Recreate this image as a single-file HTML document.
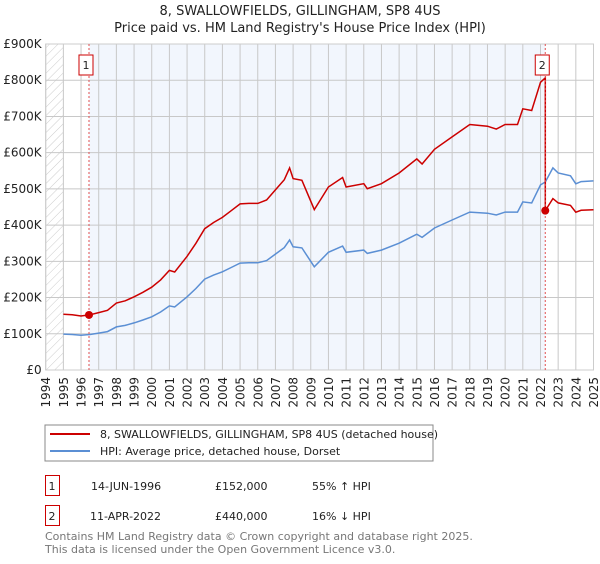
<!DOCTYPE html>
<html><head><meta charset="utf-8"><style>
body{margin:0;background:#fff;font-family:"DejaVu Sans","Liberation Sans",sans-serif;}
svg text{font-family:"DejaVu Sans","Liberation Sans",sans-serif;}
</style></head><body>
<svg id="c" width="600" height="560" xmlns="http://www.w3.org/2000/svg">
<defs><pattern id="hatch" width="6" height="6" patternUnits="userSpaceOnUse" patternTransform="rotate(45)"><line x1="0" y1="0" x2="0" y2="6" stroke="#ccc" stroke-width="1"/></pattern></defs>
<text x="300" y="15" text-anchor="middle" font-size="13" fill="#222">8, SWALLOWFIELDS, GILLINGHAM, SP8 4US</text>
<text x="300" y="32" text-anchor="middle" font-size="13" fill="#222">Price paid vs. HM Land Registry's House Price Index (HPI)</text>
<g id="plot"></g>
<rect x="45" y="425" width="388" height="36" fill="#fff" stroke="#888"/>
<line x1="50" y1="434" x2="90" y2="434" stroke="#cc0000" stroke-width="2"/>
<text x="100" y="438" font-size="11" fill="#222">8, SWALLOWFIELDS, GILLINGHAM, SP8 4US (detached house)</text>
<line x1="50" y1="451" x2="90" y2="451" stroke="#5b8fd4" stroke-width="2"/>
<text x="100" y="455" font-size="11" fill="#222">HPI: Average price, detached house, Dorset</text>
<g>
<rect x="45.5" y="475.5" width="14" height="20" fill="#fff" stroke="#cc0000"/>
<text x="52" y="490" font-size="11" text-anchor="middle" fill="#222">1</text>
<text x="91" y="490" font-size="11" fill="#222">14-JUN-1996</text>
<text x="215" y="490" font-size="11" fill="#222">£152,000</text>
<text x="312" y="490" font-size="11" fill="#222">55% ↑ HPI</text></g>
<g>
<rect x="45.5" y="505.5" width="14" height="20" fill="#fff" stroke="#cc0000"/>
<text x="52" y="520" font-size="11" text-anchor="middle" fill="#222">2</text>
<text x="90" y="520" font-size="11" fill="#222">11-APR-2022</text>
<text x="215" y="520" font-size="11" fill="#222">£440,000</text>
<text x="312" y="520" font-size="11" fill="#222">16% ↓ HPI</text></g>
<text x="45" y="540" font-size="11" fill="#777">Contains HM Land Registry data © Crown copyright and database right 2025.</text>
<text x="45" y="553" font-size="11" fill="#777">This data is licensed under the Open Government Licence v3.0.</text>
</svg>
<script>
const hpiYears=[1995,1995.5,1996,1996.5,1997,1997.5,1998,1998.5,1999,1999.5,2000,2000.5,2001,2001.3,2002,2002.5,2003,2003.5,2004,2004.5,2005,2005.5,2006,2006.5,2007,2007.5,2007.8,2008,2008.5,2009.2,2010,2010.8,2011,2012,2012.2,2013,2014,2015,2015.3,2016,2017,2018,2019,2019.5,2020,2020.7,2021,2021.5,2022,2022.27,2022.7,2023,2023.7,2024,2024.3,2025];
const hpiValues=[99,98,96,98,102,106,119,123,130,138,147,160,177,174,202,225,251,262,271,283,295,296,296,302,320,338,359,340,337,285,325,342,325,331,322,331,350,375,366,392,414,436,433,428,436,436,464,461,511,519,558,544,536,514,520,522];
const saleDates=[1996.45,2022.27];
const salePrices=[152000,440000];
const saleLabels=["1","2"];
const yTicks=[0,100000,200000,300000,400000,500000,600000,700000,800000,900000];
const yTickLabels=["£0","£100K","£200K","£300K","£400K","£500K","£600K","£700K","£800K","£900K"];
const xTicks=[1994,1995,1996,1997,1998,1999,2000,2001,2002,2003,2004,2005,2006,2007,2008,2009,2010,2011,2012,2013,2014,2015,2016,2017,2018,2019,2020,2021,2022,2023,2024,2025];

const X0=45.7,X1=593.5,Y0=370,Y1=44;
const xs=t=>X0+(t-1994)/(2025-1994)*(X1-X0);
const ys=v=>Y0-v/900000*(Y0-Y1);
const NS="http://www.w3.org/2000/svg";
const g=document.getElementById('plot');
function el(tag,attrs,parent){const e=document.createElementNS(NS,tag);for(const k in attrs)e.setAttribute(k,attrs[k]);(parent||g).appendChild(e);return e;}
function hpiAt(t){if(t<=hpiYears[0])return hpiValues[0];for(let i=1;i<hpiYears.length;i++){if(t<=hpiYears[i]){const f=(t-hpiYears[i-1])/(hpiYears[i]-hpiYears[i-1]);return (hpiValues[i-1]+f*(hpiValues[i]-hpiValues[i-1]))*1000;}}return hpiValues[hpiValues.length-1]*1000;}

let r=el('rect',{x:X0,y:Y1,width:xs(1995)-X0,height:Y0-Y1,fill:'url(#hatch)'});


r=el('rect',{x:xs(saleDates[0]),y:Y1,width:xs(saleDates[1])-xs(saleDates[0]),height:Y0-Y1,fill:'#f2f6fd'});


xTicks.forEach(t=>{const l=el('line',{x1:xs(t),x2:xs(t),y1:Y1,y2:Y0,stroke:'#c8c8c8','stroke-width':1});


const tx=el('text',{x:0,y:0,'font-size':12,fill:'#222','text-anchor':'end',transform:`translate(${xs(t)+4.5},377) rotate(-90)`});tx.textContent=t;

});
yTicks.forEach((v,i)=>{const l=el('line',{x1:X0,x2:X1,y1:ys(v),y2:ys(v),stroke:'#c8c8c8','stroke-width':1});


const tx=el('text',{x:X0-4,y:ys(v)+4,'font-size':12,fill:'#222','text-anchor':'end'});tx.textContent=yTickLabels[i];

});
r=el('rect',{x:X0,y:Y1,width:X1-X0,height:Y0-Y1,fill:'none',stroke:'#ccc'});


let d=hpiYears.map((t,i)=>(i?'L':'M')+xs(t).toFixed(1)+' '+ys(hpiValues[i]*1000).toFixed(1)).join(' ');
let p=el('path',{d:d,fill:'none',stroke:'#5b8fd4','stroke-width':1.5});


let pts=[];
for(let i=0;i<hpiYears.length;i++){const t=hpiYears[i];
 if(t<saleDates[1]){pts.push([t,hpiValues[i]*1000*salePrices[0]/hpiAt(saleDates[0])]);}
}
pts.push([saleDates[1],hpiAt(saleDates[1])*salePrices[0]/hpiAt(saleDates[0])]);
pts.push([saleDates[1],salePrices[1]]);
for(let i=0;i<hpiYears.length;i++){const t=hpiYears[i];if(t>saleDates[1])pts.push([t,hpiValues[i]*1000*salePrices[1]/hpiAt(saleDates[1])]);}
d=pts.map((q,i)=>(i?'L':'M')+xs(q[0]).toFixed(1)+' '+ys(q[1]).toFixed(1)).join(' ');
p=el('path',{d:d,fill:'none',stroke:'#cc0000','stroke-width':1.5});


saleDates.forEach((t,i)=>{
 const l=el('line',{x1:xs(t),x2:xs(t),y1:Y1,y2:Y0,stroke:'#e05050','stroke-width':1,'stroke-dasharray':'2,2'});
 
 
 const c=el('circle',{cx:xs(t),cy:ys(salePrices[i]),r:4,fill:'#cc0000'});
 
 
 const b=el('rect',{x:xs(t)-10,y:55,width:14,height:20,fill:'#fff',stroke:'#cc0000'});
 
 
 const tx=el('text',{x:xs(t)-3,y:69,'font-size':11,'text-anchor':'middle',fill:'#222'});tx.textContent=saleLabels[i];
 
 
});
</script>
</body></html>
